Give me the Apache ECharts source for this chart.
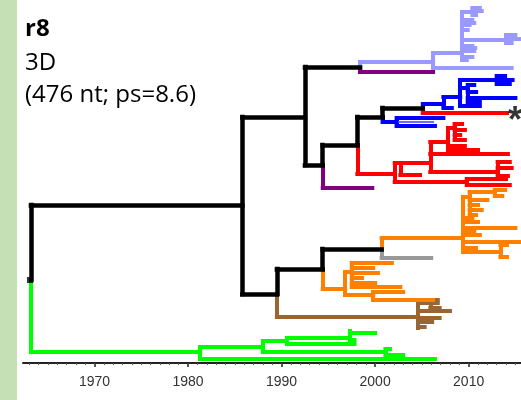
<!DOCTYPE html>
<html><head><meta charset="utf-8">
<script src="https://cdn.jsdelivr.net/npm/echarts@6/dist/echarts.min.js"></script>
<style>html,body{margin:0;padding:0;background:#fff}#c{width:521px;height:400px}</style>
</head><body><div id="c"></div>
<script>
// Axis ticks (years)
const tickYears = [1970, 1980, 1990, 2000, 2010];
const minorYears = [1963,1964,1965,1966,1967,1968,1969,1970,1971,1972,1973,1974,1975,1976,1977,1978,1979,1980,1981,1982,1983,1984,1985,1986,1987,1988,1989,1990,1991,1992,1993,1994,1995,1996,1997,1998,1999,2000,2001,2002,2003,2004,2005,2006,2007,2008,2009,2010,2011,2012,2013,2014,2015];
const titleLines = ["r8", "3D", "(476 nt; ps=8.6)"];

// Tree branches: horizontal = [tipRow, startYear, endYear]; vertical = [year, rowA, rowB]
const blackH = [[205,1963.2,1985.8],[117,1985.8,1992.5],[67,1992.5,1998.4],[165,1992.5,1994.4],[145,1994.4,1998.1],[117,1998.1,2000.8],[108,2000.8,2005.1],[294,1985.8,1989.5],[269,1989.5,1994.4],[249,1994.4,2000.7]];
const blackV = [[1963.2,205,280],[1985.8,117,294],[1992.5,67,165],[1994.4,145,165],[1998.1,117,145],[2000.8,108,117],[1989.5,269,294],[1994.4,249,269]];

const greenH = [[352,1963.2,1981.3],[359,1981.3,2006.4],[347,1981.3,1988.0],[352,1988.0,2001.1],[349,2001.1,2001.6],[355,2001.1,2003.0],[341,1988.0,1990.6],[344,1990.6,1997.8],[338,1990.6,1997.3],[333,1997.3,2000.0],[340,1997.3,1997.8]];
const greenV = [[1963.2,280,352],[1981.3,347,359],[1988.0,341,352],[1990.6,338,344],[1997.3,331,340],[2001.1,349,355]];

const lavenderH = [[62,1998.4,2006.2],[68,2006.2,2014.6],[53,2006.2,2009.3],[12,2009.3,2010.4],[8,2010.4,2011.2],[11,2010.4,2011.4],[15,2010.4,2010.8],[20,2009.3,2010.4],[23,2009.3,2010.6],[25,2009.3,2010.1],[30,2009.3,2009.9],[40,2009.3,2014.0],[35,2014.0,2015.0],[43,2014.0,2014.6],[39,2014.0,2015.5],[46,2009.3,2010.4],[48,2009.3,2010.7],[51,2009.3,2010.6],[57,2009.3,2010.4],[60,2009.3,2009.8]];
const lavenderV = [[1998.4,62,67],[2006.2,53,68],[2009.3,12,60],[2010.4,8,15],[2014.0,35,43]];

const purpleH = [[72,1998.4,2006.2],[188,1994.4,1999.7]];
const purpleV = [[1998.4,67,72],[1994.4,165,188]];

const blueH = [[122,2000.8,2002.3],[118,2002.3,2007.3],[126,2002.3,2006.4],[104,2005.1,2007.3],[108,2007.3,2008.2],[97,2007.3,2009.1],[80,2009.1,2013.0],[76,2013.0,2013.9],[84,2013.0,2014.4],[80,2013.0,2014.7],[88,2009.1,2009.9],[85,2009.9,2010.6],[92,2009.9,2010.8],[98,2009.9,2015.0],[102,2009.9,2011.2],[106,2009.1,2011.2]];
const blueV = [[2000.8,117,122],[2002.3,118,126],[2005.1,104,108],[2007.3,97,108],[2009.1,80,106],[2013.0,76,84],[2009.9,85,102]];
const lightBlueH = [[122,2002.6,2006.2]];

const redH = [[113,2005.1,2014.1],[174,1998.1,2002.1],[182,2002.1,2009.8],[179,2009.8,2014.0],[185,2009.8,2014.4],[163,2002.1,2005.9],[175,2002.7,2004.8],[172,2005.9,2013.1],[162,2013.1,2014.4],[168,2013.1,2014.6],[176,2013.1,2014.2],[154,2005.9,2014.2],[142,2005.9,2007.8],[150,2007.8,2011.0],[146,2007.8,2009.6],[128,2007.8,2008.5],[124,2008.5,2009.3],[130,2008.5,2009.6],[135,2008.5,2009.1],[140,2008.5,2009.6]];
const redV = [[2005.1,108,113],[1998.1,145,174],[2002.1,163,182],[2009.8,179,185],[2002.7,163,175],[2005.9,142,172],[2013.1,162,176],[2007.8,128,150],[2008.5,124,140]];

const orangeH = [[289,1994.4,1996.8],[295,1996.8,1999.8],[292,1999.8,2003.0],[300,1999.8,2006.2],[272,1996.8,1997.5],[263,1997.5,2001.8],[268,1997.5,1999.8],[273,1997.5,2000.3],[278,1997.5,1998.6],[283,1997.5,2000.0],[287,1997.5,2002.7],[238,2000.7,2009.4],[197,2009.4,2010.1],[192,2010.1,2012.8],[190,2012.8,2013.9],[196,2012.8,2013.6],[200,2010.1,2012.0],[205,2010.1,2011.0],[210,2010.1,2011.4],[215,2010.1,2010.8],[218,2009.4,2010.4],[222,2009.4,2011.0],[228,2009.4,2015.0],[232,2009.4,2010.6],[235,2009.4,2011.2],[242,2009.4,2015.5],[248,2009.4,2010.8],[252,2009.4,2013.4],[245,2013.4,2014.1],[257,2013.4,2014.1]];
const orangeV = [[1994.4,269,289],[1996.8,272,295],[1999.8,292,300],[1997.5,263,287],[2000.7,238,249],[2009.4,197,252],[2010.1,192,215],[2012.8,190,196],[2013.4,245,257]];

const greyH = [[258,2000.7,2006.0]];
const greyV = [[2000.7,249,258]];

const brownH = [[317,1989.5,2004.6],[303,2004.6,2006.7],[300,2005.9,2006.7],[308,2005.9,2006.9],[311,2004.6,2008.0],[318,2004.6,2006.9],[322,2004.6,2006.1],[327,2004.6,2005.3]];
const brownV = [[1989.5,294,317],[2004.6,303,328],[2005.9,300,308]];

const rootPoint = [[1963.1, 280]];
const markedTip = [[2014.1, 113]];

function segs(H, V) {
  return H.map(h => ({coords: [[h[1], h[0]], [h[2], h[0]]]}))
    .concat(V.map(v => ({coords: [[v[0], v[1]], [v[0], v[2]]]})));
}
function branchSeries(H, V, color, width, z) {
  return {type: 'lines', coordinateSystem: 'cartesian2d', data: segs(H, V), silent: true, z: z,
    lineStyle: {color: color, width: width, opacity: 1, cap: 'square', join: 'miter'}, animation: false};
}

const chart = echarts.init(document.getElementById('c'), null, {renderer: 'canvas'});
const xMin = 1962.35, xMax = 2015.6;
chart.setOption({
  animation: false,
  grid: {left: 23, right: 0, top: 0, bottom: 37, containLabel: false},
  xAxis: [{
    type: 'value', min: xMin, max: xMax, position: 'bottom',
    axisLine: {show: true, onZero: false, lineStyle: {color: '#222', width: 2}},
    axisTick: {show: true, customValues: tickYears, length: 4, lineStyle: {color: '#222', width: 1.5}},
    axisLabel: {customValues: tickYears, margin: 12, fontFamily: 'Liberation Sans', fontSize: 14, color: '#333', formatter: v => String(v)},
    splitLine: {show: false}
  }, {
    type: 'value', min: xMin, max: xMax, position: 'bottom', gridIndex: 0,
    axisLine: {show: false, onZero: false},
    axisTick: {show: true, customValues: minorYears, length: 2, lineStyle: {color: '#555', width: 1}},
    axisLabel: {show: false}, splitLine: {show: false}
  }],
  yAxis: {type: 'value', min: 0, max: 363, inverse: true, show: false},
  graphic: [
    {type: 'rect', shape: {x: 0, y: 0, width: 17, height: 400}, style: {fill: '#c5e0b4'}, z: -1},
    {type: 'text', x: 25, y: 29, style: {text: titleLines[0], font: 'bold 24px "Open Sans"', fill: '#000', textVerticalAlign: 'middle'}},
    {type: 'text', x: 25, y: 63, style: {text: titleLines[1], font: '24px "Open Sans"', fill: '#000', textVerticalAlign: 'middle'}},
    {type: 'text', x: 25, y: 95, style: {text: titleLines[2], font: '24px "Open Sans"', fill: '#000', textVerticalAlign: 'middle'}}
  ],
  series: [
    branchSeries(greenH, greenV, '#00ff00', 4, 2),
    branchSeries(brownH, brownV, '#996633', 4, 2),
    branchSeries(orangeH, orangeV, '#ff8000', 4, 2),
    branchSeries(greyH, greyV, '#999999', 4, 2),
    branchSeries(redH, redV, '#ff0000', 4, 2),
    branchSeries(blueH, blueV, '#0000ff', 4, 3),
    branchSeries(lightBlueH, [], '#6a6aff', 2, 4),
    branchSeries(purpleH, purpleV, '#800080', 4, 2),
    branchSeries(lavenderH, lavenderV, '#9999ff', 4, 2),
    branchSeries(blackH, blackV, '#000000', 4.5, 5),
    {type: 'scatter', data: rootPoint, symbol: 'rect', symbolSize: 6, itemStyle: {color: '#000'}, z: 6, silent: true},
    {type: 'scatter', data: markedTip, symbolSize: 0, silent: true, z: 6,
      label: {show: true, position: 'right', distance: 1, offset: [0, 9], formatter: '*', fontSize: 36, fontWeight: 'bold', fontFamily: 'Liberation Sans', color: '#000'}}
  ]
});
</script></body></html>
